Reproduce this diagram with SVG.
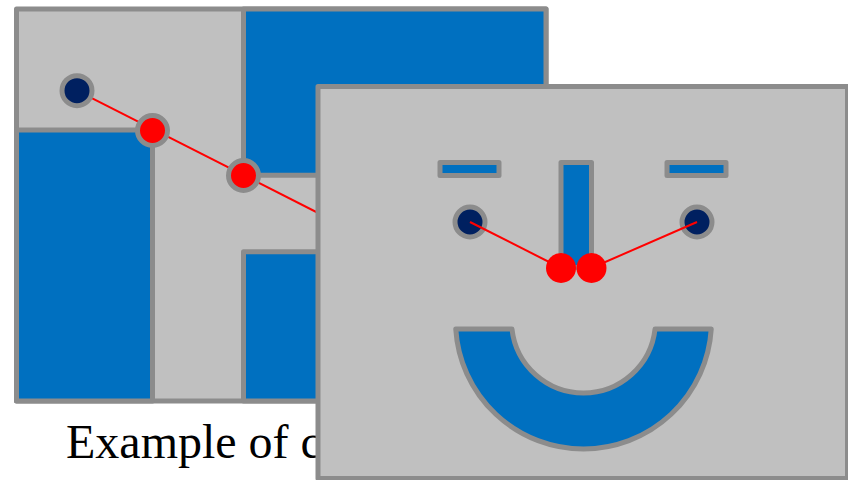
<svg xmlns="http://www.w3.org/2000/svg" width="848" height="480" viewBox="0 0 848 480">
  <style>
    .panel { fill: #c0c0c0; stroke: #8c8c8c; stroke-width: 5; stroke-linejoin: round; }
    .blue { fill: #0070c0; stroke: #8c8c8c; stroke-width: 5; stroke-linejoin: round; }
    .eye { fill: #002060; stroke: #8c8c8c; stroke-width: 5; }
    .dot { fill: #ff0000; stroke: #8c8c8c; stroke-width: 5; }
    .dot2 { fill: #ff0000; }
    .link { stroke: #ff0000; stroke-width: 2; fill: none; }
    .label { font-family: "Liberation Serif", "Times New Roman", serif; font-size: 48px; fill: #000000; }
  </style>
  <rect width="848" height="480" fill="#ffffff"/>

  <g id="left-panel">
    <rect class="panel" x="16.5" y="9" width="529.5" height="392"/>
    <rect id="block-a" class="blue" x="16.5" y="130" width="136" height="271"/>
    <rect id="block-b" class="blue" x="243.5" y="9" width="302.5" height="166.2"/>
    <rect id="block-c" class="blue" x="243.5" y="251.8" width="302.5" height="149.2"/>
  </g>

  <g id="connectors-left">
    <line class="link" x1="77" y1="90.7" x2="330" y2="219"/>
  </g>

  <g id="left-nodes">
    <circle id="start" class="eye" cx="77" cy="90.7" r="15"/>
    <circle id="corner-1" class="dot" cx="152.5" cy="130.5" r="15"/>
    <circle id="corner-2" class="dot" cx="243.5" cy="175.5" r="15"/>
  </g>

  <text id="caption" class="label" x="66" y="458">Example of c</text>

  <g id="right-panel">
    <rect class="panel" x="318" y="86.5" width="529.5" height="392"/>
    <rect id="brow-left" class="blue" x="440" y="162.5" width="59" height="13"/>
    <rect id="brow-right" class="blue" x="667" y="162.5" width="59" height="13"/>
    <rect id="nose" class="blue" x="561" y="162.5" width="30.5" height="105"/>
    <path id="mouth" class="blue" d="M455.75,329 A128,128 0 0 0 711.25,329 L655.05,329 A72,72 0 0 1 511.95,329 Z"/>
    <circle id="eye-left" class="eye" cx="470" cy="222" r="15"/>
    <circle id="eye-right" class="eye" cx="697" cy="222" r="15"/>
  </g>

  <g id="connectors-right">
    <line class="link" x1="470" y1="222" x2="561" y2="268"/>
    <line class="link" x1="697" y1="222" x2="591.5" y2="268"/>
  </g>

  <g id="right-nodes">
    <circle id="nostril-left" class="dot2" cx="561" cy="268" r="15"/>
    <circle id="nostril-right" class="dot2" cx="591.5" cy="268" r="15"/>
  </g>
</svg>
